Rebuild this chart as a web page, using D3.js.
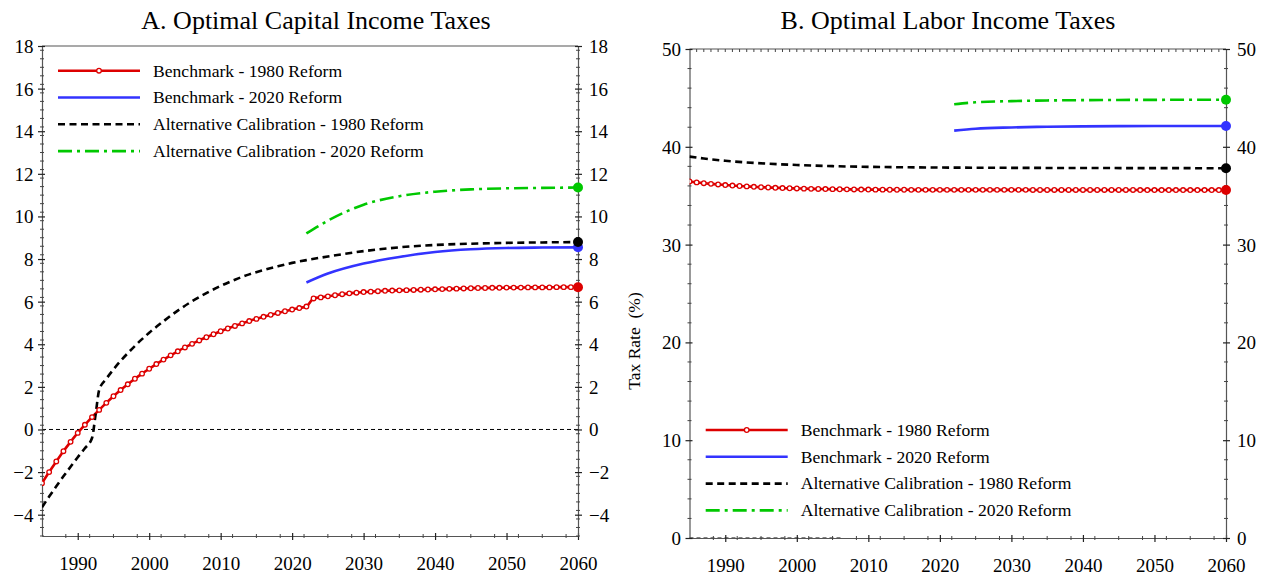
<!DOCTYPE html>
<html>
<head>
<meta charset="utf-8">
<script src="https://cdn.jsdelivr.net/npm/d3@7"></script>
<style>
  body { margin: 0; background: #fff; }
  svg { display: block; }
  text { font-family: "Liberation Serif", "Times New Roman", serif; fill: #000; }
</style>
</head>
<body>
<svg id="chart" width="1268" height="581"></svg>
<script>
// ---------------- DATA ----------------
const seriesNames = ["Benchmark - 1980 Reform", "Benchmark - 2020 Reform",
  "Alternative Calibration - 1980 Reform", "Alternative Calibration - 2020 Reform"];
const panelTitles = ["A. Optimal Capital Income Taxes", "B. Optimal Labor Income Taxes"];
const xTickLabels = [1990, 2000, 2010, 2020, 2030, 2040, 2050, 2060];
const yTicksA = [-4, -2, 0, 2, 4, 6, 8, 10, 12, 14, 16, 18];
const yTicksB = [0, 10, 20, 30, 40, 50];

// Benchmark 1980 reform, yearly 1985..2060
const benchYears1980 = d3.range(1985, 2061);
const capBench1980 = [-2.52, -2.0, -1.5, -1.02, -0.58, -0.16, 0.22, 0.58, 0.92, 1.25,
  1.56, 1.85, 2.12, 2.38, 2.62, 2.85, 3.07, 3.28, 3.48, 3.67,
  3.85, 4.02, 4.18, 4.33, 4.47, 4.61, 4.74, 4.86, 4.98, 5.09,
  5.19, 5.29, 5.38, 5.47, 5.55, 5.63, 5.70, 5.77, 6.15, 6.20,
  6.25, 6.30, 6.35, 6.39, 6.42, 6.45, 6.47, 6.49, 6.51, 6.52,
  6.53, 6.54, 6.55, 6.56, 6.57, 6.58, 6.59, 6.60, 6.61, 6.62,
  6.63, 6.64, 6.64, 6.65, 6.65, 6.66, 6.66, 6.66, 6.67, 6.67,
  6.67, 6.67, 6.68, 6.68, 6.68, 6.68];
const labBench1980 = [36.45, 36.36, 36.28, 36.21, 36.15, 36.09, 36.04, 35.99, 35.95, 35.91,
  35.87, 35.84, 35.81, 35.78, 35.76, 35.74, 35.72, 35.70, 35.69, 35.68,
  35.67, 35.66, 35.65, 35.64, 35.63, 35.63, 35.62, 35.62, 35.61, 35.61,
  35.61, 35.60, 35.60, 35.60, 35.60, 35.60, 35.60, 35.60, 35.60, 35.60,
  35.60, 35.60, 35.60, 35.60, 35.60, 35.60, 35.60, 35.60, 35.59, 35.59,
  35.59, 35.59, 35.59, 35.59, 35.59, 35.59, 35.59, 35.59, 35.59, 35.59,
  35.59, 35.59, 35.59, 35.58, 35.58, 35.58, 35.58, 35.58, 35.58, 35.58,
  35.58, 35.58, 35.58, 35.58, 35.58, 35.58];

// 2020 reform series
const years2020 = [2022, 2025, 2030, 2035, 2040, 2045, 2050, 2055, 2060];
const capBench2020 = [6.90, 7.32, 7.79, 8.10, 8.33, 8.46, 8.52, 8.54, 8.55];
const capAlt2020 = [9.20, 9.80, 10.55, 10.95, 11.16, 11.27, 11.32, 11.34, 11.36];
const labBench2020 = [41.65, 41.85, 41.98, 42.05, 42.09, 42.11, 42.12, 42.13, 42.13];
const labAlt2020 = [44.35, 44.55, 44.67, 44.74, 44.77, 44.79, 44.80, 44.81, 44.81];

// Alternative calibration 1980 reform
const capAltYears1980 = [1985, 1986, 1987, 1988, 1989, 1990, 1991, 1992, 1992.5, 1993, 1994, 1995,
  1996, 1997, 1998, 1999, 2000, 2002, 2004, 2006, 2008, 2010, 2012, 2014, 2016, 2018, 2020,
  2022, 2025, 2030, 2035, 2040, 2045, 2050, 2055, 2060];
const capAlt1980 = [-3.65, -3.15, -2.67, -2.2, -1.75, -1.3, -0.88, -0.4, 0.7, 1.85, 2.38, 2.82,
  3.22, 3.58, 3.92, 4.24, 4.54, 5.08, 5.58, 6.02, 6.4, 6.74, 7.03, 7.28, 7.48, 7.66, 7.82,
  7.95, 8.12, 8.37, 8.55, 8.66, 8.72, 8.76, 8.78, 8.8];
const labAltYears1980 = [1985, 1987, 1990, 1993, 1996, 2000, 2005, 2010, 2020, 2030, 2040, 2050, 2060];
const labAlt1980 = [39.0, 38.8, 38.57, 38.4, 38.27, 38.14, 38.02, 37.95, 37.88, 37.85, 37.83, 37.82, 37.81];

const colors = ["#dd0000", "#3333ff", "#000000", "#00c800"];

// ---------------- DRAW ----------------
const svg = d3.select("#chart");
svg.append("rect").attr("width", 1268).attr("height", 581).attr("fill", "#fff");

function zip(xs, ys) { return xs.map((x, i) => ({ x: x, y: ys[i] })); }

const panels = [
  {
    title: panelTitles[0], titleX: 316,
    x: d3.scaleLinear().domain([1985, 2060]).range([42, 578]),
    y: d3.scaleLinear().domain([-5, 18]).range([536, 46]),
    yTicks: yTicksA, yMinorStep: 0.4,
    series: [
      zip(benchYears1980, capBench1980),
      zip(years2020, capBench2020),
      zip(capAltYears1980, capAlt1980),
      zip(years2020, capAlt2020)
    ],
    zeroTo: 2060,
    legendX: 58, legendY: 70.7, topTicks: false
  },
  {
    title: panelTitles[1], titleX: 948,
    x: d3.scaleLinear().domain([1985, 2060]).range([689.5, 1226]),
    y: d3.scaleLinear().domain([0, 50]).range([538, 49]),
    yTicks: yTicksB, yMinorStep: 2,
    series: [
      zip(benchYears1980, labBench1980),
      zip(years2020, labBench2020),
      zip(labAltYears1980, labAlt1980),
      zip(years2020, labAlt2020)
    ],
    zeroTo: 2006.4,
    legendX: 705.7, legendY: 430, topTicks: true,
    ylabel: "Tax Rate\u00a0\u00a0(%)"
  }
];

const axisColor = "#555";

panels.forEach((p, pi) => {
  const g = svg.append("g");
  const [x0, x1] = p.x.range();
  const [yb, yt] = p.y.range();

  const clipId = "clip" + pi;
  svg.append("clipPath").attr("id", clipId).append("rect")
    .attr("x", x0).attr("y", yt - 8).attr("width", x1 - x0 + 8).attr("height", yb - yt + 8);

  svg.append("text").attr("x", p.titleX).attr("y", 29).attr("text-anchor", "middle")
    .style("font-size", "26px").text(p.title);

  g.append("line")
    .attr("x1", p.x(1985)).attr("x2", p.x(p.zeroTo))
    .attr("y1", p.y(0)).attr("y2", p.y(0))
    .attr("stroke", "#000").attr("stroke-width", 1).attr("stroke-dasharray", "4,3");

  g.append("line").attr("x1", x0).attr("x2", x1).attr("y1", yt).attr("y2", yt)
    .attr("stroke", axisColor).attr("stroke-width", 1.2);

  const xMinor = d3.range(1985, 2060.01, 10 / 3).filter(v => v > 1985);
  const yMinor = d3.range(p.y.domain()[0], p.y.domain()[1] + 0.001, p.yMinorStep);

  const bx = g.append("g").attr("transform", `translate(0,${yb})`)
    .call(d3.axisBottom(p.x).tickValues(xTickLabels).tickSize(4).tickSizeOuter(0).tickFormat(d3.format("d")));
  bx.select(".domain").attr("stroke", axisColor).attr("stroke-width", 1.2);
  bx.selectAll(".tick line").attr("stroke", "#222").attr("stroke-width", 1.2).attr("y1", -3);
  bx.selectAll(".tick text").attr("y", 34).attr("dy", 0).style("font-size", "19px")
    .attr("fill", "#000").style("font-family", "'Liberation Serif', serif");
  g.selectAll(".xminor" + pi).data(xMinor.filter(v => !xTickLabels.some(t => Math.abs(t - v) < 0.01)))
    .join("line").attr("x1", d => p.x(d)).attr("x2", d => p.x(d))
    .attr("y1", yb - 2).attr("y2", yb + 2).attr("stroke", "#444").attr("stroke-width", 1);

  if (p.topTicks) {
    g.selectAll(".xtop" + pi).data(d3.range(1986, 2060))
      .join("line").attr("x1", d => p.x(d)).attr("x2", d => p.x(d))
      .attr("y1", yt).attr("y2", yt + 3).attr("stroke", "#444").attr("stroke-width", 1);
  }

  [["left", x0, d3.axisLeft], ["right", x1, d3.axisRight]].forEach(([side, xp, ax]) => {
    const a = g.append("g").attr("transform", `translate(${xp},0)`)
      .call(ax(p.y).tickValues(p.yTicks).tickSize(4).tickSizeOuter(0).tickFormat(d3.format("d")));
    a.select(".domain").attr("stroke", axisColor).attr("stroke-width", 1.2);
    a.selectAll(".tick line").attr("stroke", "#222").attr("stroke-width", 1.2)
      .attr("x1", side === "left" ? 3 : -3);
    a.selectAll(".tick text").style("font-size", "19px").attr("fill", "#000")
      .style("font-family", "'Liberation Serif', serif")
      .attr("x", side === "left" ? -8.5 : 11).attr("dy", "0.34em");
    g.selectAll(".yminor" + side + pi)
      .data(yMinor.filter(v => !p.yTicks.some(t => Math.abs(t - v) < 0.01)))
      .join("line").attr("x1", xp - 2).attr("x2", xp + 2)
      .attr("y1", d => p.y(d)).attr("y2", d => p.y(d))
      .attr("stroke", "#444").attr("stroke-width", 1);
  });

  if (p.ylabel) {
    svg.append("text").attr("transform", `translate(640,341) rotate(-90)`)
      .attr("text-anchor", "middle").style("font-size", "17.5px").text(p.ylabel);
  }

  const line = d3.line().x(d => p.x(d.x)).y(d => p.y(d.y)).curve(d3.curveMonotoneX);
  const styles = [
    { dash: null, w: 2.6 },
    { dash: null, w: 2.6 },
    { dash: "7,4.5", w: 2.6 },
    { dash: "14,5,3,5", w: 2.6 }
  ];
  const sg = g.append("g").attr("clip-path", `url(#${clipId})`);
  p.series.forEach((s, si) => {
    sg.append("path").datum(s).attr("d", line).attr("fill", "none")
      .attr("stroke", colors[si]).attr("stroke-width", styles[si].w)
      .attr("stroke-dasharray", styles[si].dash);
  });
  sg.selectAll(".mk" + pi).data(p.series[0]).join("circle")
    .attr("cx", d => p.x(d.x)).attr("cy", d => p.y(d.y)).attr("r", 2.3)
    .attr("fill", "#fff").attr("stroke", colors[0]).attr("stroke-width", 1.3);
  [0, 1, 3, 2].forEach(si => {
    const last = p.series[si][p.series[si].length - 1];
    g.append("circle").attr("cx", p.x(last.x)).attr("cy", p.y(last.y)).attr("r", 5)
      .attr("fill", colors[si]);
  });

  const lg = g.append("g");
  seriesNames.forEach((name, i) => {
    const yy = p.legendY + i * 26.8;
    lg.append("line").attr("x1", p.legendX).attr("x2", p.legendX + 82)
      .attr("y1", yy).attr("y2", yy).attr("stroke", colors[i]).attr("stroke-width", 2.6)
      .attr("stroke-dasharray", styles[i].dash);
    if (i === 0) {
      lg.append("circle").attr("cx", p.legendX + 41).attr("cy", yy).attr("r", 2.3)
        .attr("fill", "#fff").attr("stroke", colors[0]).attr("stroke-width", 1.3);
    }
    lg.append("text").attr("x", p.legendX + 95).attr("y", yy).attr("dy", "0.33em")
      .style("font-size", "17.6px").text(name);
  });
});
</script>
</body>
</html>
